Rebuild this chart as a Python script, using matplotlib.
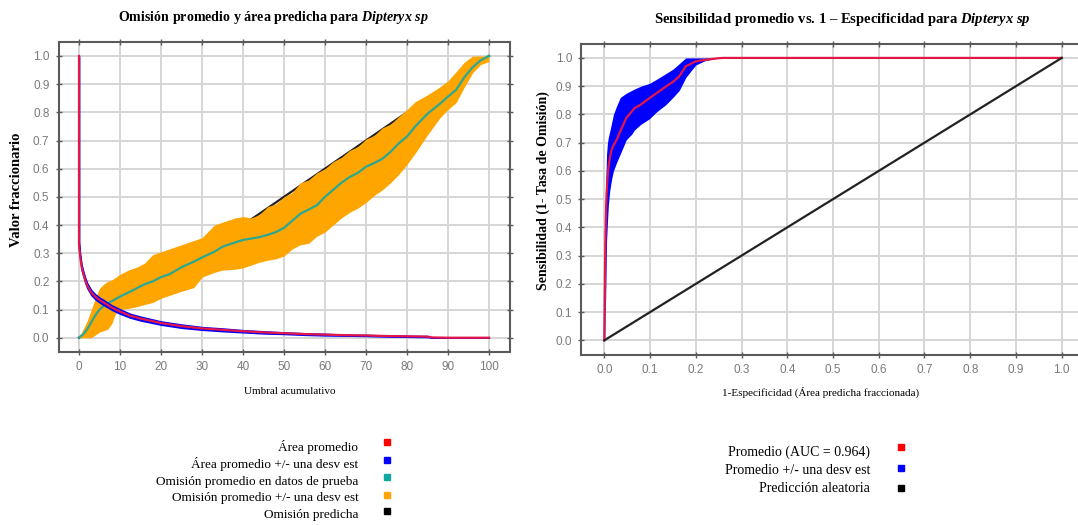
import matplotlib
matplotlib.use("Agg")
import matplotlib.pyplot as plt
from matplotlib.lines import Line2D

# ---------------- data ----------------
# Left chart: omission / predicted area vs cumulative threshold
area_x = [0, 0, 0.2, 0.4, 0.65, 1, 1.5, 2, 3, 4, 5, 6, 8, 10, 12.5, 15, 20, 25, 30, 35, 40,
          45, 50, 55, 60, 65, 70, 75, 80, 85, 86, 90, 95, 100]
area_mean = [1.0, 0.33, 0.30, 0.275, 0.25, 0.23, 0.205, 0.185, 0.16, 0.145, 0.134, 0.125, 0.107,
             0.093, 0.078, 0.068, 0.052, 0.041, 0.033, 0.028, 0.023, 0.019, 0.016, 0.013, 0.011,
             0.009, 0.008, 0.006, 0.005, 0.004, 0.001, 0.0, 0.0, 0.0]
area_sd = [0.0, 0.009, 0.009, 0.009, 0.009, 0.009, 0.009, 0.009, 0.009, 0.009, 0.009, 0.009, 0.008,
           0.008, 0.007, 0.007, 0.006, 0.006, 0.005, 0.005, 0.004, 0.004, 0.003, 0.003, 0.003,
           0.002, 0.002, 0.002, 0.002, 0.002, 0.001, 0.0, 0.0, 0.0]

omission_x = [0, 1, 2, 3, 4, 5, 6, 7, 8, 9, 10, 12, 14, 16, 18, 20, 22, 25, 28, 30, 33, 35, 38,
              40, 42, 44, 46, 48, 50, 52, 54, 56, 58, 60, 62, 64, 66, 68, 70, 72, 74, 76, 78, 80,
              82, 85, 88, 90, 92, 94, 96, 98, 100]
omission_mean = [0, 0.012, 0.03, 0.055, 0.08, 0.1, 0.113, 0.122, 0.13, 0.138, 0.146, 0.16, 0.175,
                 0.19, 0.2, 0.215, 0.225, 0.25, 0.27, 0.285, 0.305, 0.323, 0.338,
                 0.347, 0.352, 0.357, 0.365, 0.375, 0.39, 0.415, 0.44, 0.455, 0.47, 0.5, 0.525,
                 0.55, 0.57, 0.585, 0.607, 0.62, 0.635, 0.66, 0.69, 0.714,
                 0.75, 0.795, 0.83, 0.856, 0.88, 0.925, 0.96, 0.985, 1.0]
omission_upper = [0, 0.03, 0.06, 0.1, 0.14, 0.175, 0.19, 0.2, 0.205, 0.215, 0.225, 0.24, 0.25,
                  0.265, 0.295, 0.305, 0.315, 0.33, 0.345, 0.355, 0.4, 0.41, 0.425,
                  0.43, 0.425, 0.437, 0.465, 0.475, 0.5, 0.515, 0.55, 0.56, 0.585, 0.6, 0.625,
                  0.64, 0.665, 0.678, 0.705, 0.718, 0.745, 0.758, 0.785, 0.81,
                  0.838, 0.862, 0.89, 0.912, 0.945, 0.978, 1.0, 1.0, 1.0]
omission_lower = [0, 0, 0, 0, 0.01, 0.02, 0.025, 0.03, 0.05, 0.09, 0.1, 0.104, 0.11, 0.118, 0.125,
                  0.14, 0.15, 0.165, 0.178, 0.215, 0.232, 0.24, 0.243,
                  0.248, 0.258, 0.268, 0.275, 0.28, 0.29, 0.315, 0.33, 0.335, 0.36, 0.375, 0.4,
                  0.425, 0.445, 0.46, 0.48, 0.505, 0.525, 0.55, 0.58, 0.615,
                  0.655, 0.72, 0.78, 0.81, 0.835, 0.89, 0.94, 0.97, 0.98]
predicted_x = [0, 100]
predicted_omission = [0, 1]

# Right chart: ROC
roc_fpr = [0, 0.001, 0.002, 0.003, 0.004, 0.005, 0.007, 0.009, 0.012, 0.016, 0.02, 0.027, 0.035,
           0.048, 0.06, 0.066, 0.08, 0.099, 0.115, 0.135, 0.15, 0.164, 0.178, 0.19, 0.2, 0.22,
           0.25, 0.26, 1.0]
roc_mean = [0, 0.15, 0.3, 0.4, 0.47, 0.52, 0.57, 0.61, 0.645, 0.675, 0.69, 0.71, 0.74, 0.787, 0.81,
            0.822, 0.835, 0.858, 0.876, 0.899, 0.915, 0.935, 0.97, 0.98, 0.988, 0.993, 0.999, 1.0,
            1.0]
roc_upper = [0, 0.2, 0.4, 0.55, 0.6, 0.66, 0.7, 0.72, 0.74, 0.77, 0.8, 0.83, 0.86, 0.875, 0.885,
             0.89, 0.9, 0.91, 0.925, 0.945, 0.96, 0.98, 1.0, 1.0, 1.0, 1.0, 1.0, 1.0, 1.0]
roc_lower = [0, 0.0, 0.1, 0.15, 0.25, 0.35, 0.42, 0.48, 0.53, 0.57, 0.6, 0.63, 0.66, 0.71, 0.73,
             0.745, 0.765, 0.785, 0.81, 0.835, 0.86, 0.885, 0.93, 0.955, 0.975, 0.99, 1.0, 1.0, 1.0]
random_x = [0, 1]
random_y = [0, 1]

left_ticks_x = list(range(0, 101, 10))
ticks_y = [i / 10 for i in range(11)]
right_ticks_x = [i / 10 for i in range(11)]

legend_left_labels = ["Área promedio", "Área promedio +/- una desv est",
                      "Omisión promedio en datos de prueba", "Omisión promedio +/- una desv est",
                      "Omisión predicha"]
legend_left_colors = ["#ff0000", "#0000ff", "#10a8a0", "#ffa500", "#000000"]
legend_right_labels = ["Promedio (AUC = 0.964)", "Promedio +/- una desv est", "Predicción aleatoria"]
legend_right_colors = ["#ff0000", "#0000ff", "#000000"]

# ---------------- style ----------------
W, H = 1078, 525
SERIF = "Liberation Serif"
plt.rcParams["mathtext.fontset"] = "custom"
plt.rcParams["mathtext.it"] = "Liberation Serif:italic:bold"
plt.rcParams["mathtext.rm"] = "Liberation Serif:bold"

fig = plt.figure(figsize=(W / 100, H / 100), dpi=100)
fig.patch.set_facecolor("white")

RED = "#e3164a"
BLUE = "#0000ff"
TEAL = "#2aa894"
ORANGE = "#ffa500"
GRID = "#d6d6d6"
SPINE = "#5a5a5a"
TICKC = "#7a7a7a"


def px_axes(left, top, right, bottom):
    return fig.add_axes([left / W, 1 - bottom / H, (right - left) / W, (bottom - top) / H])


def style(ax):
    ax.grid(True, color=GRID, linewidth=1.4)
    ax.set_axisbelow(True)
    for s in ax.spines.values():
        s.set_color(SPINE)
        s.set_linewidth(1.5)
    ax.tick_params(direction="inout", length=5, width=1, color=SPINE, labelcolor=TICKC,
                   labelsize=8.5, top=True, right=True, pad=4)
    for lab in ax.get_xticklabels() + ax.get_yticklabels():
        lab.set_fontfamily("Liberation Sans")


# ---------------- left chart ----------------
ax1 = px_axes(58.5, 41.9, 509.5, 351.8)
ax1.plot(predicted_x, predicted_omission, color="#222222", linewidth=1.6, zorder=2)
ax1.fill_between(omission_x, omission_lower, omission_upper, color=ORANGE, linewidth=0, zorder=3)
ax1.plot(omission_x, omission_mean, color=TEAL, linewidth=1.6, zorder=4)
a_lo = [m - s for m, s in zip(area_mean, area_sd)]
a_hi = [m + s for m, s in zip(area_mean, area_sd)]
ax1.fill_between(area_x, a_lo, a_hi, color=BLUE, linewidth=1.0, edgecolor=BLUE, zorder=5)
ax1.plot(area_x, area_mean, color=RED, linewidth=1.6, zorder=6)
ax1.set_xlim(-5, 105)
ax1.set_ylim(-0.05, 1.05)
ax1.set_xticks(left_ticks_x)
ax1.set_yticks(ticks_y)
ax1.set_xticklabels([str(t) for t in left_ticks_x])
ax1.set_yticklabels([f"{t:.1f}" for t in ticks_y])
ax1.tick_params(labelright=False, labeltop=False)
style(ax1)

# ---------------- right chart ----------------
ax2 = px_axes(581.4, 43.8, 1084.6, 354.5)
ax2.fill_between(roc_fpr, roc_lower, roc_upper, color=BLUE, linewidth=0, zorder=3)
ax2.plot(roc_fpr, roc_mean, color=RED, linewidth=1.6, zorder=4)
ax2.plot(random_x, random_y, color="#222222", linewidth=1.6, zorder=5)
ax2.set_xlim(-0.05, 1.05)
ax2.set_ylim(-0.05, 1.05)
ax2.set_xticks(right_ticks_x)
ax2.set_yticks(ticks_y)
ax2.set_xticklabels([f"{t:.1f}" for t in right_ticks_x])
ax2.set_yticklabels([f"{t:.1f}" for t in ticks_y])
ax2.tick_params(labelright=False, labeltop=False)
style(ax2)

# ---------------- texts ----------------
def ftext(x, y, s, **kw):
    return fig.text(x / W, 1 - y / H, s, **kw)


ftext(273, 17, r"Omisión promedio y área predicha para $Dipteryx\ sp$", ha="center", va="center",
      fontfamily=SERIF, fontweight="bold", fontsize=10.1)
ftext(842, 20, r"Sensibilidad promedio vs. 1 – Especificidad para $Dipteryx\ sp$", ha="center",
      va="center", fontfamily=SERIF, fontweight="bold", fontsize=10.5)
ftext(17, 190, "Valor fraccionario", rotation=90, ha="center", va="center",
      fontfamily=SERIF, fontweight="bold", fontsize=10.5)
ftext(543, 191, "Sensibilidad (1- Tasa de Omisión)", rotation=90, ha="center", va="center",
      fontfamily=SERIF, fontweight="bold", fontsize=10)
ftext(290, 392, "Umbral acumulativo", ha="center", va="center", fontfamily=SERIF, fontsize=8)
ftext(821, 392, "1-Especificidad (Área predicha fraccionada)", ha="center", va="center",
      fontfamily=SERIF, fontsize=8)

# legends
left_text_y = [446.7, 464.3, 481.7, 498.3, 515]
left_mark_y = [442.3, 460, 477.3, 495.3, 511.3]
for lab, col, ty, my in zip(legend_left_labels, legend_left_colors, left_text_y, left_mark_y):
    ftext(358.3, ty, lab, ha="right", va="center", fontfamily=SERIF, fontsize=9.5)
    fig.add_artist(Line2D([387.3 / W], [1 - my / H], marker="s", markersize=5, color=col,
                          linestyle="none", transform=fig.transFigure))

right_text_y = [452.7, 470, 488.3]
right_mark_y = [446.7, 467.7, 488.3]
for lab, col, ty, my in zip(legend_right_labels, legend_right_colors, right_text_y, right_mark_y):
    ftext(870, ty, lab, ha="right", va="center", fontfamily=SERIF, fontsize=10)
    fig.add_artist(Line2D([901 / W], [1 - my / H], marker="s", markersize=5, color=col,
                          linestyle="none", transform=fig.transFigure))

fig.savefig("out.png", dpi=100)
